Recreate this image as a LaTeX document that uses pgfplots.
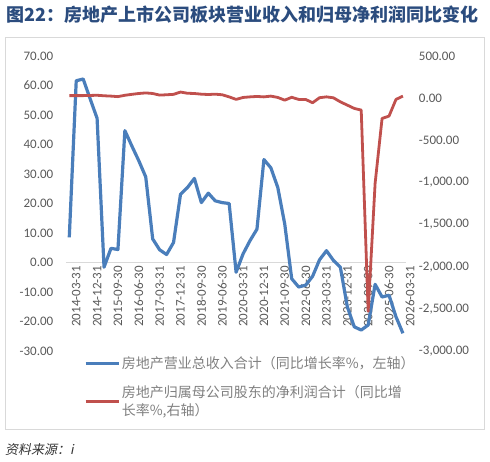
\documentclass[border=0pt]{standalone}
\usepackage{fontspec}
\setmainfont{Carlito}
\newfontfamily\cjk{Noto Sans CJK SC}
\newfontfamily\cjkit[FakeSlant=0.2]{Noto Sans CJK SC}
\usepackage{pgfplots}
\pgfplotsset{compat=1.18}
\usepackage{pgfplotstable}
\definecolor{sblue}{HTML}{4A7EBB}
\definecolor{sred}{HTML}{C0504D}
\definecolor{tgray}{HTML}{595959}
\definecolor{lgray}{HTML}{808080}
\definecolor{ttl}{HTML}{2B4C7E}
\definecolor{frm}{HTML}{D9D9D9}

\pgfplotstableread{
idx rev
0 8.5
1 61.6
2 62.2
3 55.5
4 48.9
5 -1.6
6 4.8
7 4.4
8 44.7
9 39.5
10 34.5
11 29.0
12 8.0
13 4.3
14 2.7
15 6.8
16 23.1
17 25.4
18 28.5
19 20.3
20 23.5
21 20.9
22 20.3
23 20.0
24 -3.3
25 2.9
26 7.4
27 11.3
28 34.9
29 32.1
30 25.4
31 13.0
32 -5.5
33 -8.3
34 -7.7
35 -4.7
36 0.9
37 4.0
38 0.7
39 -1.6
40 -15.0
41 -21.8
42 -22.9
43 -21.2
44 -7.4
45 -11.7
46 -11.1
47 -18.4
48 -24.0
}\revtable

\pgfplotstableread{
idx np
0 30
1 30
2 30
3 32
4 34
5 28
6 24
7 18
8 34
9 45
10 55
11 62
12 55
13 36
14 40
15 45
16 72
17 58
18 55
19 47
20 43
21 47
22 40
23 15
24 -15
25 8
26 15
27 20
28 15
29 24
30 8
31 -24
32 10
33 -15
34 -15
35 -55
36 5
37 15
38 4
39 -44
40 -83
41 -122
42 -142
43 -2530
44 -1010
45 -241
46 -213
47 -15
48 24
}\nptable

\begin{document}
\begin{tikzpicture}[x=1pt,y=1pt]
\path (0,0) rectangle (490,462);
\draw[frm, line width=0.8pt] (5,33) rectangle (484,425);
\node[anchor=west, text=ttl, font=\cjk\bfseries\fontsize{18}{20}\selectfont, inner sep=0pt] at (6,447) {图22：房地产上市公司板块营业收入和归母净利润同比变化};
\node[anchor=west, text=black!80, font=\cjkit\fontsize{13}{15}\selectfont, inner sep=0pt] at (5,12) {资料来源：i};

\begin{axis}[
  at={(65.8pt,111pt)}, anchor=south west,
  scale only axis, width=340.6pt, height=295pt,
  xmin=-0.5, xmax=48.5, ymin=-30, ymax=70,
  axis x line=middle, axis y line=left,
  hide obscured x ticks=false, hide obscured y ticks=false,
  x axis line style={draw=frm, line width=0.8pt, -},
  y axis line style={draw=none},
  major tick length=0pt,
  xtick={0,3,...,48},
  xticklabels={2014-03-31,2014-12-31,2015-09-30,2016-06-30,2017-03-31,2017-12-31,2018-09-30,2019-06-30,2020-03-31,2020-12-31,2021-09-30,2022-06-30,2023-03-31,2023-12-31,2024-09-30,2025-06-30,2026-03-31},
  xticklabel style={rotate=90, anchor=east, font=\fontsize{13}{15}\selectfont, text=tgray, yshift=-7pt},
  ytick={-30,-20,...,70},
  yticklabel style={/pgf/number format/.cd, fixed, fixed zerofill, precision=2, assume math mode=true, /tikz/.cd, font=\fontsize{13}{15}\selectfont, text=tgray, xshift=-9pt},
  legend style={at={(axis description cs:0.053,-0.0136)}, anchor=north west, draw=none, fill=none,
    font=\cjk\fontsize{14}{18.7}\selectfont, text=lgray, cells={anchor=west, align=left}, row sep=12pt, inner sep=0pt,
    nodes={inner sep=1.5pt}},
  legend cell align=left,
  legend image code/.code={\draw[#1] (0pt,0pt) -- (33pt,0pt);},
]
\addplot[sblue, line width=3.2pt, line join=round] table[x=idx, y=rev] {\revtable};
\addlegendentry{房地产营业总收入合计（同比增长率\%，左轴）}
\addlegendimage{sred, line width=3pt}
\addlegendentry{房地产归属母公司股东的净利润合计（同比增\\长率\%,右轴）}
\end{axis}

\begin{axis}[
  at={(65.8pt,111pt)}, anchor=south west,
  scale only axis, width=340.6pt, height=295pt,
  xmin=-0.5, xmax=48.5, ymin=-3000, ymax=500,
  axis x line=none, axis y line*=right,
  y axis line style={draw=none},
  major tick length=0pt,
  ytick={-3000,-2500,...,500},
  yticklabel style={/pgf/number format/.cd, fixed, fixed zerofill, precision=2, 1000 sep={,}, assume math mode=true, /tikz/.cd, font=\fontsize{13}{15}\selectfont, text=tgray, xshift=9pt},
]
\addplot[sred, line width=2.8pt, line join=round] table[x=idx, y=np] {\nptable};
\end{axis}
\end{tikzpicture}
\end{document}
